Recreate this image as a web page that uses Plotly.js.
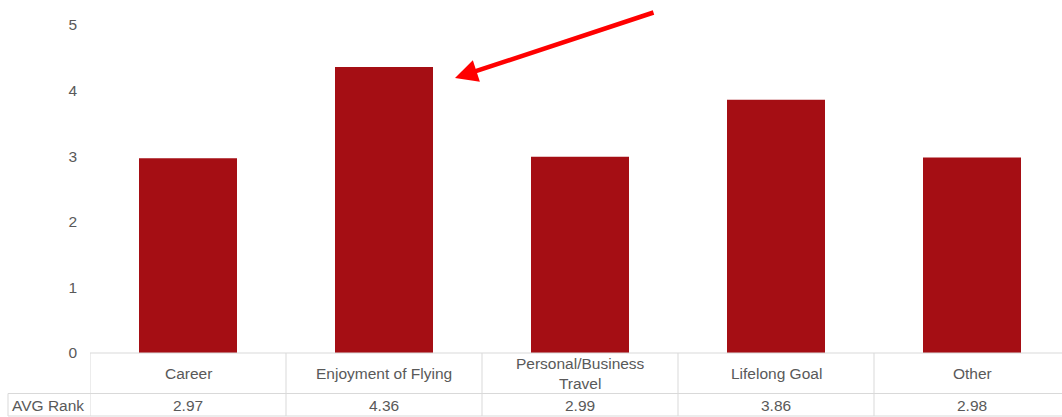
<!DOCTYPE html>
<html>
<head>
<meta charset="utf-8">
<script src="https://cdn.plot.ly/plotly-3.0.1.min.js"></script>
<style>html,body{margin:0;padding:0;background:#fff;}#chart{width:1062px;height:417px;}</style>
</head>
<body>
<div id="chart"></div>
<script>
const categories = ["Career", "Enjoyment of Flying", "Personal/Business<br>Travel", "Lifelong Goal", "Other"];
const avgRank = [2.97, 4.36, 2.99, 3.86, 2.98];
const rowLabel = "AVG Rank";
const yTicks = [0, 1, 2, 3, 4, 5];

const barColor = "#a50e14";
const textColor = "#595959";
const gridColor = "#d9d9d9";
const font = "Liberation Sans, Arial, sans-serif";
const fs = 15.5;

const idx = categories.map((_, i) => i);

const trace = {
  type: "bar",
  x: idx,
  y: avgRank,
  marker: {color: barColor},
  width: 0.5,
  hoverinfo: "skip"
};

// plot area: left 90, column width 196 (last column runs past the page edge), bottom 353, height 328
const L = 90, W = 972, B = 353, H = 328;
const colW = 196;
const xMax = -0.5 + W / colW;
const px = v => (v - L) / W;
const py = v => (B - v) / H;

const shapes = [];
const lineStyle = {color: gridColor, width: 1};
shapes.push({type: "line", xref: "paper", yref: "paper", x0: 0, x1: 1, y0: 0, y1: 0, line: lineStyle});
shapes.push({type: "line", xref: "paper", yref: "paper", x0: px(8), x1: 1, y0: py(393.5), y1: py(393.5), line: lineStyle});
shapes.push({type: "line", xref: "paper", yref: "paper", x0: px(8), x1: 1, y0: py(416), y1: py(416), line: lineStyle});
for (let i = 0; i < categories.length; i++) {
  shapes.push({type: "line", xref: "x", yref: "paper", x0: i - 0.5, x1: i - 0.5, y0: 0, y1: py(416), line: lineStyle});
}
shapes.push({type: "line", xref: "paper", yref: "paper", x0: px(8), x1: px(8), y0: py(393.5), y1: py(416), line: lineStyle});

const annotations = [];
categories.forEach((c, i) => {
  annotations.push({
    x: i, xref: "x", y: 0, yref: "paper", yshift: -20, yanchor: "middle", xanchor: "center",
    text: c, showarrow: false, font: {family: font, size: fs, color: textColor}
  });
  annotations.push({
    x: i, xref: "x", y: 0, yref: "paper", yshift: -52, yanchor: "middle", xanchor: "center",
    text: avgRank[i].toFixed(2), showarrow: false, font: {family: font, size: fs, color: textColor}
  });
});
annotations.push({
  x: 0, xref: "paper", xshift: -42, y: 0, yref: "paper", yshift: -52, yanchor: "middle", xanchor: "center",
  text: rowLabel, showarrow: false, font: {family: font, size: fs, color: textColor}
});
// red arrow pointing at the highest bar
annotations.push({
  x: px(455), xref: "paper", y: py(78), yref: "paper",
  ax: 200, ay: -66, axref: "pixel", ayref: "pixel",
  showarrow: true, arrowhead: 2, arrowsize: 1, arrowwidth: 4.5, arrowcolor: "#ff0000", text: ""
});

const layout = {
  width: 1062, height: 417,
  margin: {l: L, r: 0, t: B - H, b: 417 - B, pad: 0},
  paper_bgcolor: "#ffffff", plot_bgcolor: "#ffffff",
  showlegend: false,
  font: {family: font, size: fs, color: textColor},
  xaxis: {type: "linear", range: [-0.5, xMax], showticklabels: false, showgrid: false, zeroline: false, showline: false, ticks: "", fixedrange: true},
  yaxis: {range: [0, 5], tickvals: yTicks, ticktext: yTicks.map(String), showgrid: false, zeroline: false, showline: false, ticks: "", ticklabelstandoff: 12, tickfont: {family: font, size: fs, color: textColor}, fixedrange: true},
  shapes: shapes,
  annotations: annotations
};

Plotly.newPlot("chart", [trace], layout, {displayModeBar: false, staticPlot: true});
</script>
</body>
</html>
